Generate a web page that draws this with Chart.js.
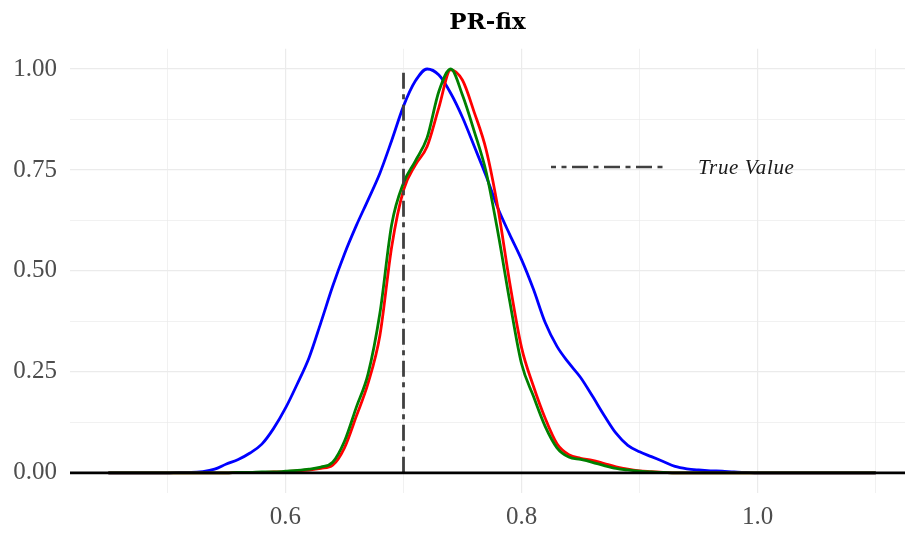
<!DOCTYPE html>
<html><head><meta charset="utf-8">
<script src="https://cdn.jsdelivr.net/npm/chart.js@4.4.0/dist/chart.umd.min.js"></script>
<style>html,body{margin:0;padding:0;background:#fff;overflow:hidden}</style>
</head><body>
<canvas id="c" width="905" height="533"></canvas>
<script>
// ---- data ----
const xValues = [0.45,0.46,0.47,0.48,0.49,0.50,0.51,0.52,0.53,0.54,0.55,0.56,0.57,0.58,0.59,0.60,0.61,0.62,0.63,0.64,0.65,0.66,0.67,0.68,0.69,0.70,0.71,0.72,0.73,0.74,0.75,0.76,0.77,0.78,0.79,0.80,0.81,0.82,0.83,0.84,0.85,0.86,0.87,0.88,0.89,0.90,0.91,0.92,0.93,0.94,0.95,0.96,0.97,0.98,0.99,1.00,1.01,1.02,1.03,1.04,1.05,1.06,1.07,1.08,1.09,1.10];
const blueValues = [0,0,0,0,0,0,0.001,0.001,0.003,0.009,0.022,0.033,0.049,0.071,0.110,0.160,0.220,0.285,0.372,0.462,0.542,0.612,0.676,0.742,0.823,0.908,0.970,1.000,0.985,0.940,0.880,0.808,0.735,0.655,0.590,0.528,0.455,0.372,0.313,0.272,0.236,0.190,0.142,0.098,0.068,0.052,0.040,0.028,0.016,0.010,0.007,0.005,0.004,0.002,0.001,0,0,0,0,0,0,0,0,0,0,0];
const redValues = [0,0,0,0,0,0,0,0,0,0,0,0.001,0.001,0.001,0.002,0.003,0.005,0.007,0.011,0.019,0.062,0.140,0.222,0.340,0.560,0.700,0.762,0.808,0.905,0.998,0.972,0.892,0.800,0.655,0.470,0.310,0.215,0.135,0.072,0.045,0.036,0.031,0.023,0.015,0.009,0.005,0.003,0.001,0,0,0,0,0,0,0,0,0,0,0,0,0,0,0,0,0,0];
const greenValues = [0,0,0,0,0,0,0,0,0,0,0,0.001,0.001,0.002,0.002,0.004,0.006,0.009,0.014,0.026,0.078,0.162,0.245,0.395,0.615,0.718,0.772,0.830,0.945,1.000,0.935,0.845,0.745,0.595,0.425,0.270,0.190,0.115,0.062,0.039,0.033,0.026,0.018,0.011,0.007,0.004,0.002,0.001,0,0,0,0,0,0,0,0,0,0,0,0,0,0,0,0,0,0];
const trueValue = 0.7;
const trueValueSpan = [0, 1];
const titleText = 'PR-fix';
const legendLabel = 'True Value';
const xTickValues = [0.6, 0.8, 1.0];
const xTickLabels = ['0.6', '0.8', '1.0'];
const xMinorValues = [0.5, 0.7, 0.9, 1.1];
const yTickValues = [0, 0.25, 0.5, 0.75, 1.0];
const yTickLabels = ['0.00', '0.25', '0.50', '0.75', '1.00'];
const yMinorValues = [0.125, 0.375, 0.625, 0.875];

// ---- helpers ----
const pts = (ys) => xValues.map((x, i) => ({x: x, y: ys[i]}));
const FONT = "'Liberation Serif', 'DejaVu Serif', serif";
const DASH = [16, 5.5, 5, 5.5];
const near = (a, b) => Math.abs(a - b) < 1e-9;
function labelFor(vals, labels, v) {
  const i = vals.findIndex(t => near(t, v));
  return i >= 0 ? labels[i] : '';
}
function gridWidth(vals) {
  return (ctx) => (ctx.tick && vals.some(t => near(t, ctx.tick.value))) ? 1.2 : 0.7;
}

const overlay = {
  id: 'overlay',
  afterDatasetsDraw(chart) {
    const {ctx, chartArea, scales} = chart;
    ctx.save();
    // zero line
    const y0 = scales.y.getPixelForValue(0);
    ctx.strokeStyle = '#000000';
    ctx.lineWidth = 2.8;
    ctx.setLineDash([]);
    ctx.beginPath();
    ctx.moveTo(chartArea.left, y0);
    ctx.lineTo(chartArea.right, y0);
    ctx.stroke();
    // legend key inside panel
    const ly = 167;
    ctx.strokeStyle = '#404040';
    ctx.lineWidth = 2.6;
    ctx.setLineDash(DASH);
    ctx.lineDashOffset = 11;
    ctx.beginPath();
    ctx.moveTo(551, ly);
    ctx.lineTo(666, ly);
    ctx.stroke();
    ctx.setLineDash([]);
    ctx.fillStyle = '#1a1a1a';
    ctx.font = "italic 21px " + FONT;
    ctx.textBaseline = 'alphabetic';
    ctx.textAlign = 'left';
    if ('letterSpacing' in ctx) ctx.letterSpacing = '0.6px';
    ctx.fillText(legendLabel, 698, 174);
    ctx.restore();
  }
};

new Chart(document.getElementById('c'), {
  type: 'line',
  data: {
    datasets: [
      {label: legendLabel, data: trueValueSpan.map(y => ({x: trueValue, y: y})), borderColor: '#404040', borderWidth: 2.8, borderDash: DASH, pointRadius: 0, tension: 0},
      {label: 'green', data: pts(greenValues), borderColor: '#008000', borderWidth: 2.8, pointRadius: 0, cubicInterpolationMode: 'monotone'},
      {label: 'red', data: pts(redValues), borderColor: '#ff0000', borderWidth: 2.8, pointRadius: 0, cubicInterpolationMode: 'monotone'},
      {label: 'blue', data: pts(blueValues), borderColor: '#0000ff', borderWidth: 2.8, pointRadius: 0, cubicInterpolationMode: 'monotone'}
    ]
  },
  options: {
    responsive: false,
    devicePixelRatio: 1,
    animation: false,
    layout: {padding: 0},
    plugins: {
      legend: {display: false},
      tooltip: {enabled: false},
      title: {
        display: true, text: titleText, fullSize: false, color: '#000000',
        font: {family: "'DejaVu Serif', serif", size: 23, weight: 'bold'},
        padding: {top: 9, bottom: 12.2}
      }
    },
    scales: {
      x: {
        type: 'linear', min: 0.4175, max: 1.1248,
        afterBuildTicks: (s) => { s.ticks = xTickValues.concat(xMinorValues).sort((a, b) => a - b).map(v => ({value: v})); },
        afterFit: (s) => { s.height = 40; },
        border: {display: false},
        grid: {color: '#ebebeb', lineWidth: gridWidth(xTickValues), drawTicks: false},
        ticks: {
          autoSkip: false, maxRotation: 0, padding: 9, color: '#4d4d4d',
          font: {family: FONT, size: 25},
          callback: (v) => labelFor(xTickValues, xTickLabels, v)
        }
      },
      y: {
        type: 'linear', min: -0.05, max: 1.05,
        afterBuildTicks: (s) => { s.ticks = yTickValues.concat(yMinorValues).sort((a, b) => a - b).map(v => ({value: v})); },
        afterFit: (s) => { s.width = 70; },
        border: {display: false},
        grid: {color: '#ebebeb', lineWidth: gridWidth(yTickValues), drawTicks: false},
        ticks: {
          autoSkip: false, padding: 13, color: '#4d4d4d',
          font: {family: FONT, size: 25},
          callback: (v) => labelFor(yTickValues, yTickLabels, v)
        }
      }
    }
  },
  plugins: [overlay]
});
</script>
</body></html>
